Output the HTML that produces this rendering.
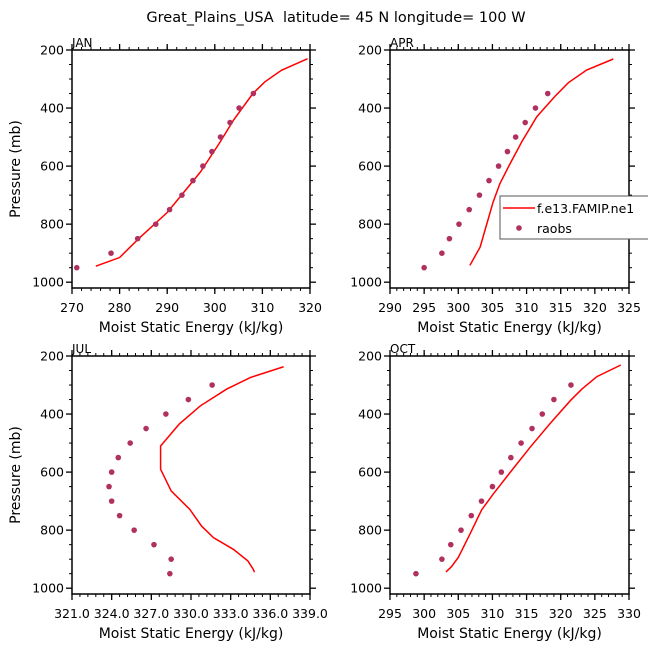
<!DOCTYPE html>
<html><head><meta charset="utf-8"><style>
html,body{margin:0;padding:0;background:#fff;width:648px;height:648px;overflow:hidden}
svg{display:block;font-family:"DejaVu Sans","Liberation Sans",sans-serif}
</style></head><body>
<svg id="fig" width="648" height="648" viewBox="0 0 648 648">
<text x="336" y="22" font-size="14.5" text-anchor="middle" fill="#000" style="white-space:pre" xml:space="preserve">Great_Plains_USA  latitude= 45 N longitude= 100 W</text>
</svg>
<script>
// ---- data ----
const janModelX=[275,280,284,290,293,297,301,304,308,310.5,314,319.5];
const janModelP=[945,915,850,760,700,620,520,440,350,310,270,230];
const janObsX=[271,278.2,283.8,287.6,290.5,293.1,295.4,297.5,299.4,301.2,303.2,305.1,308.1];
const janObsP=[950,900,850,800,750,700,650,600,550,500,450,400,350];
const aprModelX=[301.7,303.2,304.4,305.1,306.1,307.6,309.3,311.5,314.1,316.1,318.8,322.7];
const aprModelP=[942,879,781,724,660,591,516,430,361,313,269,231];
const aprObsX=[295.0,297.6,298.7,300.1,301.6,303.1,304.5,305.9,307.2,308.4,309.8,311.3,313.1];
const aprObsP=[950,900,850,800,750,700,650,600,550,500,450,400,350];
const julModelX=[334.8,334.7,334.3,333.2,331.7,330.8,329.9,328.5,327.7,327.7,329.1,330.7,332.7,334.5,337.0];
const julModelP=[945,934,906,866,826,786,728,665,590,510,435,372,314,274,237];
const julObsX=[328.4,328.5,327.2,325.7,324.6,324.0,323.8,324.0,324.5,325.4,326.6,328.1,329.8,331.6];
const julObsP=[950,900,850,800,750,700,650,600,550,500,450,400,350,300];
const octModelX=[303.2,304.0,305.0,306.7,308.4,310.1,312.6,315.5,318.4,321.4,323.1,325.3,328.8];
const octModelP=[944,926,894,814,731,676,601,515,434,354,314,271,231];
const octObsX=[298.8,302.6,303.9,305.4,306.9,308.4,310.0,311.3,312.7,314.2,315.8,317.3,319.0,321.5];
const octObsP=[950,900,850,800,750,700,650,600,550,500,450,400,350,300];
const janTicks=[270,280,290,300,310,320];
const aprTicks=[290,295,300,305,310,315,320,325];
const julTicks=[321,324,327,330,333,336,339];
const octTicks=[295,300,305,310,315,320,325,330];
const pTicks=[200,400,600,800,1000];

const NS='http://www.w3.org/2000/svg';
const svg=document.getElementById('fig');
function mk(tag,attrs,parent){const e=document.createElementNS(NS,tag);for(const k in attrs)e.setAttribute(k,attrs[k]);(parent||svg).appendChild(e);return e;}

function panel(id,name,L,T,W,xmin,xmax,ticks,minorStep,dec,mx,mp,ox,op,ylab){
  const H=238, pmin=200, pmax=1020;
  const g=mk('g',{});
  
  
  const sx=v=>L+(v-xmin)/(xmax-xmin)*W;
  const sy=p=>T+(p-pmin)/(pmax-pmin)*H;
  const fr=mk('rect',{x:L,y:T,width:W,height:H,fill:'none',stroke:'#000','stroke-width':1.5},g);
  
  
  for(let v=xmin;v<=xmax+1e-6;v+=minorStep){const x=sx(v);
    mk('line',{x1:x,y1:T+H,x2:x,y2:T+H+3,stroke:'#000'},g);
    mk('line',{x1:x,y1:T,x2:x,y2:T-3,stroke:'#000'},g);}
  ticks.forEach(v=>{const x=sx(v);
    mk('line',{x1:x,y1:T+H,x2:x,y2:T+H+6,stroke:'#000','stroke-width':1.3},g);
    mk('line',{x1:x,y1:T,x2:x,y2:T-6,stroke:'#000','stroke-width':1.3},g);
    const t=mk('text',{x:x,y:T+H+24,'font-size':12.5,'text-anchor':'middle'},g);
    t.textContent=v.toFixed(dec);
    
    });
  for(let p=250;p<1020;p+=50){if(p%200===0)continue;const y=sy(p);
    mk('line',{x1:L,y1:y,x2:L-3,y2:y,stroke:'#000'},g);
    mk('line',{x1:L+W,y1:y,x2:L+W+3,y2:y,stroke:'#000'},g);}
  pTicks.forEach(p=>{const y=sy(p);
    mk('line',{x1:L,y1:y,x2:L-6,y2:y,stroke:'#000','stroke-width':1.3},g);
    mk('line',{x1:L+W,y1:y,x2:L+W+6,y2:y,stroke:'#000','stroke-width':1.3},g);
    const t=mk('text',{x:L-8,y:y+4.5,'font-size':12.5,'text-anchor':'end'},g);
    t.textContent=p;
    
    });
  const xt=mk('text',{x:L+W/2,y:T+H+44,'font-size':14,'text-anchor':'middle'},g);
  xt.textContent='Moist Static Energy (kJ/kg)';
  
  
  if(ylab){const yt=mk('text',{x:0,y:0,'font-size':14,'text-anchor':'middle',transform:`translate(${L-52},${T+H/2}) rotate(-90)`},g);
    yt.textContent='Pressure (mb)';
    
    }
  const nt=mk('text',{x:L,y:T-3,'font-size':12},g);
  nt.textContent=name;
  
  
  const pl=mk('polyline',{points:mx.map((v,i)=>sx(v)+','+sy(mp[i])).join(' '),fill:'none',stroke:'#ff0000','stroke-width':1.5},g);
  
  
  ox.forEach((v,i)=>{const c=mk('circle',{cx:sx(v),cy:sy(op[i]),r:2.8,fill:'#b03060'},g);
    
    });
}
panel('jan','JAN',72,50,238,270,320,janTicks,2,0,janModelX,janModelP,janObsX,janObsP,true);
panel('apr','APR',390,50,239,290,325,aprTicks,1,0,aprModelX,aprModelP,aprObsX,aprObsP,false);
panel('jul','JUL',72,356,238,321,339,julTicks,0.6,1,julModelX,julModelP,julObsX,julObsP,true);
panel('oct','OCT',390,356,239,295,330,octTicks,1,0,octModelX,octModelP,octObsX,octObsP,false);

const lg=mk('g',{});


mk('rect',{x:500,y:196,width:160,height:43,fill:'#fff',stroke:'#555','stroke-width':1},lg);
const ll=mk('line',{x1:503,y1:208,x2:535,y2:208,stroke:'#ff0000','stroke-width':1.5},lg);


const lt1=mk('text',{x:537,y:213,'font-size':12.5},lg);lt1.textContent='f.e13.FAMIP.ne1';


const lc=mk('circle',{cx:519,cy:228,r:2.8,fill:'#b03060'},lg);


const lt2=mk('text',{x:537,y:233,'font-size':12.5},lg);lt2.textContent='raobs';


</script>
</body></html>
